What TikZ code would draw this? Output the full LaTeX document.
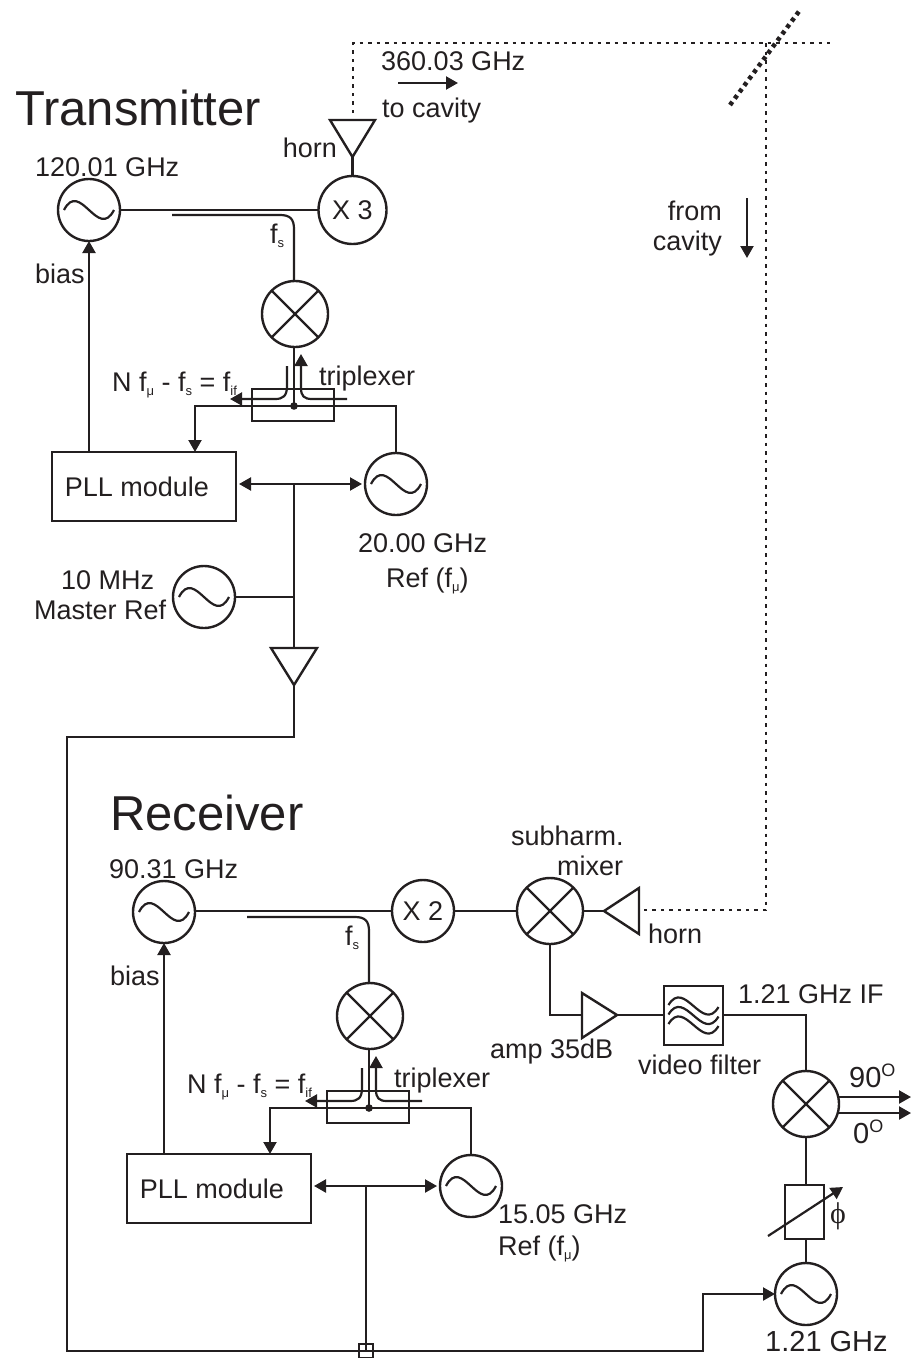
\documentclass[tikz,border=0pt]{standalone}
\usepackage{fontspec}
\setmainfont{Liberation Sans}
\newfontfamily\serifphi{Liberation Serif}
\usetikzlibrary{arrows.meta}
\definecolor{ink}{HTML}{231F20}
\newcommand{\labfont}{\fontsize{27}{29}\selectfont}
\newcommand{\bigfont}{\fontsize{49}{51}\selectfont}
\newcommand{\sbs}[1]{\raisebox{-4pt}{\fontsize{13}{14}\selectfont #1}}
\tikzset{
  wire/.style={draw=ink,line width=2.2pt,line join=miter},
  arr/.style={wire,-{Triangle[length=12pt,width=13pt]}},
  darr/.style={wire,{Triangle[length=12pt,width=13pt]}-{Triangle[length=12pt,width=13pt]}},
  beam/.style={draw=ink,line width=2.2pt,dash pattern=on 3.5pt off 5pt},
  mirror/.style={draw=ink,line width=4.5pt,dash pattern=on 4pt off 4pt},
  circ/.style={circle,draw=ink,line width=2.4pt,inner sep=0pt,outer sep=0pt,text=ink,font=\labfont},
  osc/.style={circ,minimum size=62pt,path picture={
    \draw[ink,line width=2.2pt,shift={(path picture bounding box.center)}]
      (-25,0) .. controls (-9,-31) and (9,31) .. (25,0);}},
  mult/.style={circ,minimum size=68pt},
  mix/.style={circ,minimum size=66pt,path picture={
    \draw[ink,line width=2.2pt] (path picture bounding box.north west)--(path picture bounding box.south east)
      (path picture bounding box.north east)--(path picture bounding box.south west);}},
  boxn/.style={draw=ink,line width=2.2pt,inner sep=0pt,outer sep=0pt,font=\labfont,text=ink},
  lab/.style={anchor=base west,inner sep=0pt,font=\labfont,text=ink},
  labr/.style={anchor=base east,inner sep=0pt,font=\labfont,text=ink},
  big/.style={anchor=base west,inner sep=0pt,font=\bigfont,text=ink},
  tri/.style={draw=ink,line width=2.4pt,line join=miter},
}
\newcommand{\pllblock}{%
  \node[osc] (osc) at (89,210) {};
  \node[mix] (mix) at (295,314) {};
  \node[boxn,minimum width=82pt,minimum height=32pt] (trip) at (293,405) {};
  \node[boxn,minimum width=184pt,minimum height=69pt] (pll) at (144,486.5) {};
  \node[osc] (ref) at (396,484) {};
  \coordinate (dot) at (294,406);
  \coordinate (fs0) at (172,215);
  \coordinate (lup) at (287,366);
  \coordinate (rin) at (347,399);
  \coordinate (rup) at (301,354);
  \draw[wire] (fs0) -- (280,215) .. controls (290,215) and (294,219) .. (294,229) -- (294,281);
  \draw[wire] (294,347) -- (dot);
  \fill[ink] (dot) circle (3.8pt);
  \draw[arr] (lup) -- (287,386) .. controls (287,396) and (283,399) .. (275,399) -- (230,399);
  \draw[arr] (rin) -- (312,399) .. controls (304,399) and (301,396) .. (301,388) -- (rup);
  \draw[wire] (dot) -- (ref.north |- dot) -- (ref.north);
  \draw[arr] (dot) -- (195,406) -- (195,452);
  \draw[arr] (osc.south |- pll.north) -- (osc.south);
  \node[lab] (lbias) at (35,283) {bias};
  \node[lab] (lfs) at (270,243) {f\sbs{s}};
  \node[lab] (lnf) at (112,391) {N f\sbs{μ} - f\sbs{s} = f\sbs{if}};
  \node[lab] (ltrip) at (319,385) {triplexer};
  \node[font=\labfont,text=ink,inner sep=0pt] (lpll) at (137,487) {PLL module};
}
\begin{document}
\begin{tikzpicture}[x=1pt,y=-1pt]
\useasboundingbox (0,0) rectangle (911,1358);
% Transmitter
\begin{scope}[name prefix=t-]
  \pllblock
\end{scope}
\node[mult] (x3) at (352.5,210) {X 3};
\draw[wire] (t-osc.east) -- (x3.west);
\coordinate (h1a) at (352.5,157);
\draw[tri] (330,120) -- (375,120) -- (h1a) -- cycle;
\draw[wire] (h1a) -- (x3.north);
\coordinate (bc0) at (353,113);
\coordinate (bc1) at (353,43);
\coordinate (bc2) at (766,43);
\coordinate (bc3) at (830,43);
\coordinate (bc4) at (766,910);
\coordinate (h2b) at (639,910);
\draw[beam] (bc0) -- (bc1) -- (bc3);
\draw[beam] (bc2) -- (bc4) -- (h2b);
\coordinate (m1) at (730,105);
\coordinate (m2) at (800,10);
\draw[mirror] (m1) -- (m2);
\coordinate (a1) at (398,83);
\coordinate (a2) at (458,83);
\draw[arr] (a1) -- (a2);
\coordinate (a3) at (747,198);
\coordinate (a4) at (747,258);
\draw[arr] (a3) -- (a4);
\node[big] (ltx) at (15,125) {Transmitter};
\node[lab] (l120) at (35,176) {120.01 GHz};
\node[labr] (lhorn1) at (337,157) {horn};
\node[lab] (l360) at (381,70) {360.03 GHz};
\node[lab] (lto) at (382,117) {to cavity};
\node[labr] (lfrom) at (722,220) {from};
\node[labr] (lcav) at (722,250) {cavity};
\node[lab] (l20) at (358,552) {20.00 GHz};
\node[lab] (lref1) at (386,587) {Ref (f\sbs{μ})};
\node[lab] (l10) at (61,589) {10 MHz};
\node[lab] (lmaster) at (34,619) {Master Ref};
\node[osc] (osc10) at (204,597) {};
\coordinate (j1) at (294,484);
\coordinate (j2) at (294,597);
\draw[darr,shorten <=3pt,shorten >=3pt] (t-pll.east |- j1) -- (t-ref.west);
\draw[wire] (j1) -- (294,648);
\draw[wire] (osc10.east) -- (j2);
\coordinate (a5) at (294,685);
\draw[tri] (271,648) -- (317,648) -- (a5) -- cycle;
% Receiver
\begin{scope}[shift={(75,702)},name prefix=r-]
  \pllblock
\end{scope}
\node[big] (lrx) at (110,830) {Receiver};
\node[lab] (l90) at (109,878) {90.31 GHz};
\node[mult,minimum size=62pt] (x2) at (423,911) {X 2};
\node[mix] (sub) at (550,911) {};
\draw[wire] (r-osc.east |- x2) -- (x2.west);
\draw[wire] (x2.east) -- (sub.west);
\coordinate (h2a) at (604,911);
\draw[tri] (639,888) -- (639,934) -- (h2a) -- cycle;
\draw[wire] (sub.east) -- (h2a);
\node[lab] (lsub) at (511,845) {subharm.};
\node[lab] (lmixer) at (557,875) {mixer};
\node[lab] (lhorn2) at (648,943) {horn};
\coordinate (e1) at (582,1015);
\coordinate (e2) at (617,1015);
\draw[wire] (sub.south) -- (sub.south |- e1) -- (e1);
\draw[tri] (582,993) -- (582,1038) -- (e2) -- cycle;
\node[boxn,minimum width=59pt,minimum height=59pt,
  path picture={\foreach \dy in {-9.5,0,9.5}{
    \draw[ink,line width=2.2pt,shift={(path picture bounding box.center)}]
      (-25,\dy-1) .. controls (-9,\dy-28) and (9,\dy+28) .. (25,\dy+1);}}] (flt) at (693.5,1015.5) {};
\draw[wire] (e2) -- (flt.west |- e2);
\node[mix] (m3) at (806,1104) {};
\draw[wire] (flt.east |- e2) -- (m3.north |- e2) -- (m3.north);
\node[lab] (lamp) at (490,1058) {amp 35dB};
\node[lab] (lvid) at (638,1074) {video filter};
\node[lab] (l121if) at (738,1003) {1.21 GHz IF};
\coordinate (o1) at (911,1097);
\coordinate (o2) at (911,1113);
\draw[arr] (m3.east |- o1) ++(-2,0) -- (o1);
\draw[arr] (m3.east |- o2) ++(-2,0) -- (o2);
\node[lab,font=\fontsize{29}{31}\selectfont] (l90d) at (849,1087) {90\raisebox{11pt}{\fontsize{18}{19}\selectfont O}};
\node[lab,font=\fontsize{29}{31}\selectfont] (l0d) at (853,1143) {0\raisebox{11pt}{\fontsize{18}{19}\selectfont O}};
\node[boxn,minimum width=39pt,minimum height=54pt] (ph) at (804.5,1212) {};
\node[osc] (o121) at (806,1294) {};
\draw[wire] (m3.south) -- (ph.north -| m3);
\draw[wire] (ph.south -| o121) -- (o121.north);
\coordinate (p1) at (768,1236);
\coordinate (p2) at (843,1187);
\draw[arr] (p1) -- (p2);
\node[lab,font=\fontsize{30}{32}\selectfont\serifphi] (lphi) at (830,1223) {ϕ};
\node[lab,font=\fontsize{29}{31}\selectfont] (l121) at (765,1351) {1.21 GHz};
\node[lab] (l15) at (498,1223) {15.05 GHz};
\node[lab] (lref2) at (498,1255) {Ref (f\sbs{μ})};
% Bus
\node[draw=ink,line width=1.8pt,minimum size=14pt,inner sep=0pt,outer sep=0pt] (sq) at (366,1351) {};
\coordinate (j3) at (366,1186);
\draw[darr,shorten <=3pt,shorten >=3pt] (r-pll.east |- j3) -- (r-ref.west);
\draw[wire] (j3) -- (sq.center);
\draw[arr] (a5) -- (294,737) -- (67,737) -- (67,1351) -- (703,1351) -- (703,1294) -- (o121.west);
\end{tikzpicture}
\end{document}
